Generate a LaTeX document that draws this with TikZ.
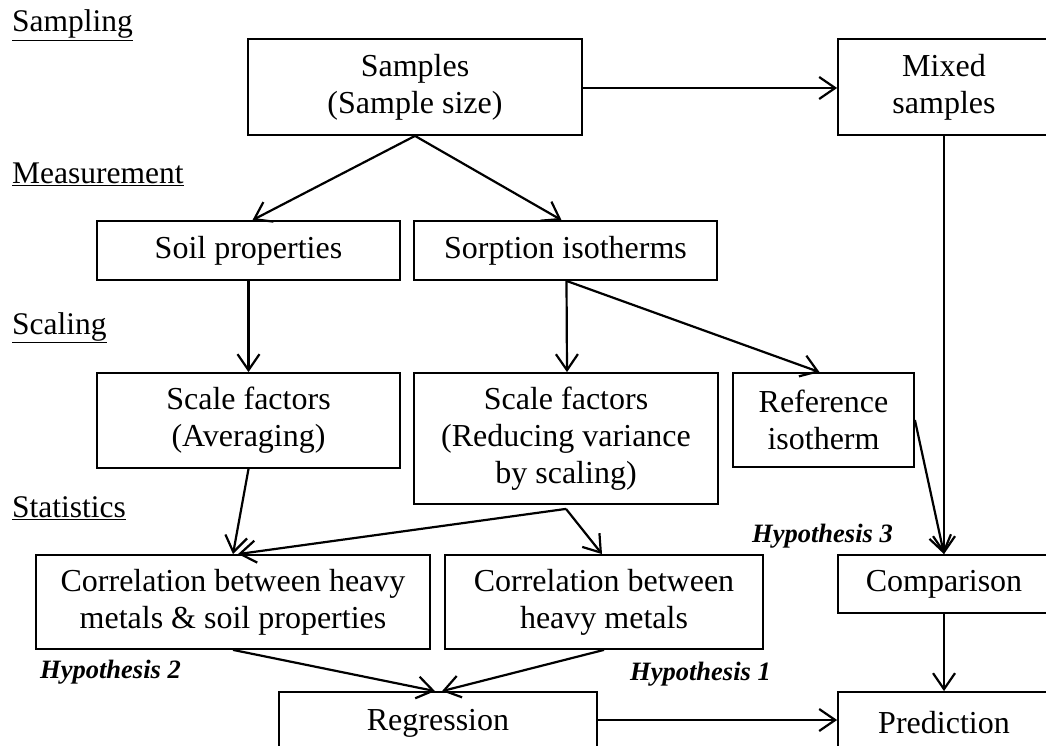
\documentclass[tikz,border=0pt]{standalone}
\usepackage{fontspec}
\setmainfont{Liberation Serif}
\usetikzlibrary{arrows.meta,calc}
\begin{document}
\begin{tikzpicture}[x=1pt,y=-1pt,
  box/.style={draw, line width=1.8pt, inner sep=0pt, align=center, font=\fontsize{32}{37}\selectfont},
  arr/.style={line width=2.2pt, -{Straight Barb[length=16pt,width=22pt]}},
  sec/.style={anchor=base west, inner sep=0pt, font=\fontsize{31.5}{37}\selectfont},
  hyp/.style={anchor=base west, inner sep=0pt, font=\fontsize{26.5}{30}\selectfont\bfseries\itshape}]
\useasboundingbox (0,0) rectangle (1046,746);
\clip (0,0) rectangle (1046,746);

% section labels
\node[sec] (lsamp) at (12,32) {\underline{Sampling}};
\node[sec] (lmeas) at (12,183) {\underline{Measurement}};
\node[sec] (lscal) at (12,334) {\underline{Scaling}};
\node[sec] (lstat) at (12,517) {\underline{Statistics}};

% boxes
\node[box, minimum width=334pt, minimum height=96pt] (samp) at (415,87) {Samples\\(Sample size)};
\node[box, minimum width=212pt, minimum height=96pt] (mixed) at (944,87) {Mixed\\samples};
\node[box, minimum width=303pt, minimum height=59pt] (soil) at (248.5,250.5) {Soil properties};
\node[box, minimum width=303pt, minimum height=59pt] (sorp) at (565.5,250.5) {Sorption isotherms};
\node[box, minimum width=303pt, minimum height=95pt] (sfa) at (248.5,420.5) {Scale factors\\(Averaging)};
\node[box, minimum width=304pt, minimum height=131pt] (sfb) at (566,438.5) {Scale factors\\(Reducing variance\\by scaling)};
\node[box, minimum width=181pt, minimum height=94pt] (ref) at (823.5,420) {Reference\\isotherm};
\node[box, minimum width=394pt, minimum height=94pt] (corr1) at (233,602) {Correlation between heavy\\metals \& soil properties};
\node[box, minimum width=318pt, minimum height=94pt] (corr2) at (604,602) {Correlation between\\heavy metals};
\node[box, minimum width=212pt, minimum height=58pt] (cmp) at (944,584) {Comparison};
\node[box, minimum width=318pt, minimum height=62pt] (reg) at (438,723) {Regression};
\node[box, minimum width=212pt, minimum height=62pt] (pred) at (944,723) {Prediction};

% hypothesis labels
\node[hyp] (h3) at (752,542) {Hypothesis 3};
\node[hyp] (h2) at (40,678) {Hypothesis 2};
\node[hyp] (h1) at (630,680) {Hypothesis 1};

% connectors
\draw[arr] (samp.east |- 0,88) -- (mixed.west |- 0,88);
\draw[arr] (samp.south) -- ([xshift=4pt]soil.north);
\draw[arr] (samp.south) -- ([xshift=-4pt]sorp.north);
\draw[arr] (soil.south) -- (sfa.north);
\draw[arr] ([xshift=1pt]sorp.south) -- ([xshift=1pt]sfb.north);
\draw[arr] ([xshift=1pt]sorp.south) -- ([xshift=-4pt]ref.north);
\draw[arr] (sfa.south) -- (corr1.north);
\draw[arr] ([yshift=-4pt]sfb.south) -- ([xshift=5pt]corr1.north);
\draw[arr] ([yshift=-4pt]sfb.south) -- ([xshift=-2pt]corr2.north);
\draw[arr] (ref.east) -- (cmp.north);
\draw[arr] (mixed.south) -- (cmp.north);
\draw[arr] (corr1.south) -- ([xshift=-3pt]reg.north);
\draw[arr] (corr2.south) -- ([xshift=4pt]reg.north);
\draw[arr] (reg.east |- 0,720) -- (pred.west |- 0,720);
\draw[arr] (cmp.south) -- (pred.north);
\end{tikzpicture}
\end{document}
